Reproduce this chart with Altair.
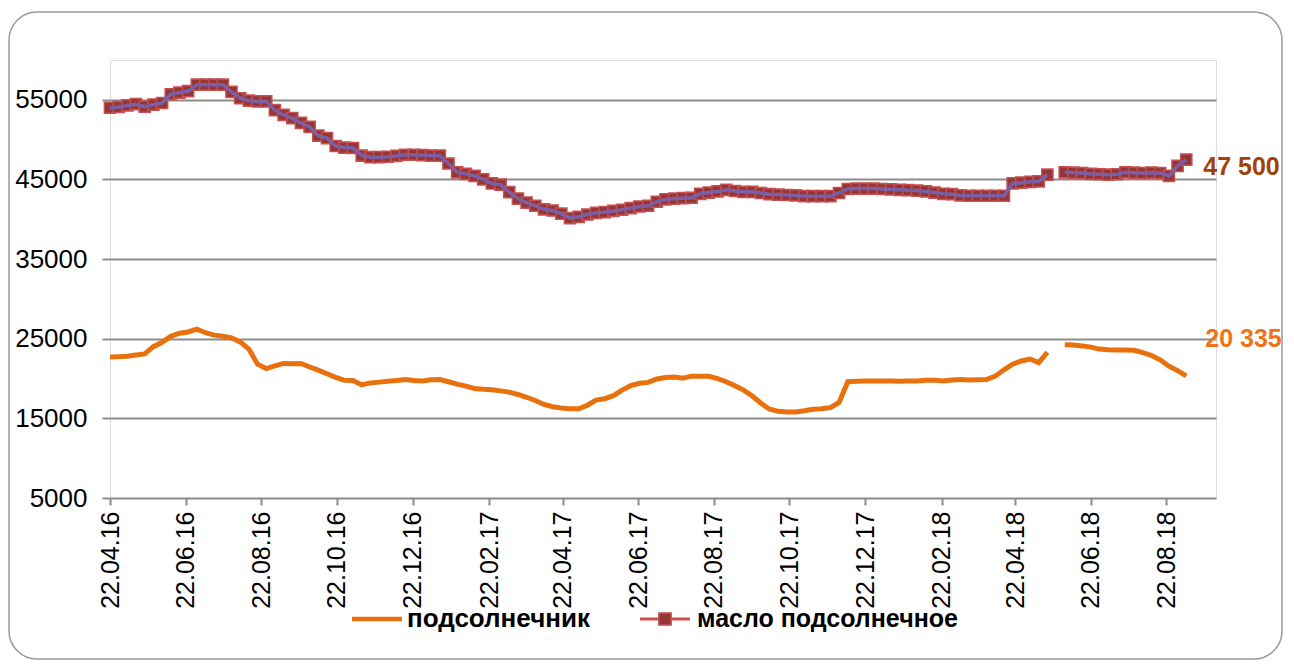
import altair as alt
import pandas as pd

# ---- data (weekly) ----
start_date = "2016-04-22"
oil = [
    54000, 54100, 54300, 54450, 54150, 54400, 54600, 55700, 55900, 56100,
    56900, 56900, 56900, 56900, 56000, 55200, 54900, 54800, 54800, 53700,
    53100, 52700, 52100, 51600, 50500, 50200, 49200, 49000, 48950, 48000,
    47800, 47800, 47850, 47950, 48100, 48100, 48050, 48000, 48000, 47000,
    45900, 45700, 45450, 45000, 44500, 44350, 43400, 42600, 42100, 41700,
    41250, 41100, 40700, 40150, 40300, 40600, 40800, 40900, 41050, 41200,
    41400, 41600, 41700, 42200, 42500, 42600, 42650, 42700, 43200, 43350,
    43500, 43700, 43550, 43450, 43450, 43300, 43150, 43100, 43050, 43000,
    42900, 42900, 42900, 42900, 43300, 43800, 43850, 43850, 43850, 43800,
    43750, 43700, 43650, 43600, 43500, 43350, 43200, 43150, 43000, 42950,
    42950, 42950, 42950, 42950, 44500, 44600, 44700, 44750, 45600, None,
    45900, 45850, 45800, 45700, 45650, 45600, 45650, 45900, 45850, 45800,
    45850, 45800, 45450, 46700, 47500,
]
sun = [
    22700, 22750, 22800, 22950, 23100, 24000, 24550, 25300, 25700, 25850,
    26200, 25750, 25450, 25300, 25100, 24600, 23700, 21800, 21250, 21600,
    21900, 21850, 21900, 21450, 21050, 20600, 20150, 19780, 19750, 19200,
    19450, 19550, 19650, 19750, 19880, 19750, 19700, 19850, 19880, 19600,
    19300, 19050, 18750, 18650, 18580, 18450, 18300, 18000, 17650, 17250,
    16750, 16460, 16300, 16200, 16200, 16650, 17300, 17470, 17850, 18550,
    19100, 19400, 19520, 19950, 20120, 20200, 20050, 20300, 20300, 20290,
    20000, 19600, 19100, 18550, 17800, 16900, 16150, 15880, 15800, 15790,
    15950, 16150, 16200, 16350, 17000, 19600, 19670, 19680, 19690, 19700,
    19680, 19650, 19680, 19700, 19780, 19800, 19680, 19820, 19870, 19820,
    19850, 19880, 20300, 21100, 21800, 22200, 22450, 22000, 23300, None,
    24250, 24200, 24100, 23950, 23700, 23620, 23600, 23580, 23550, 23250,
    22900, 22350, 21550, 21000, 20335,
]
tick_labels = ["22.04.16", "22.06.16", "22.08.16", "22.10.16", "22.12.16",
               "22.02.17", "22.04.17", "22.06.17", "22.08.17", "22.10.17",
               "22.12.17", "22.02.18", "22.04.18", "22.06.18", "22.08.18"]
y_ticks = [5000, 15000, 25000, 35000, 45000, 55000]
name_sun = "подсолнечник"
name_oil = "масло подсолнечное"
label_oil = "47 500"
label_sun = "20 335"

dates = pd.date_range(start_date, periods=len(oil), freq="7D").strftime("%Y-%m-%d")


def frame(vals):
    rows = []
    seg = 1
    for d, v in zip(dates, vals):
        if v is None:
            seg += 1
            continue
        rows.append({"date": d, "value": v, "seg": seg})
    return pd.DataFrame(rows)


sun_df = frame(sun)
oil_df = frame(oil)


def dt(s):
    d, m, y = s.split(".")
    return alt.DateTime(year=2000 + int(y), month=int(m), date=int(d), utc=True)


FONT = "Liberation Sans"
ORANGE = "#E8710E"
PURPLE = "#7B5FA6"
MARK_FILL = "#953535"
MARK_STROKE = "#C85050"

x_enc = alt.X(
    "date:T",
    scale=alt.Scale(type="utc", domain=[dt("22.04.16"), alt.DateTime(year=2018, month=10, date=1, utc=True)], nice=False),
    axis=alt.Axis(
        values=[dt(t) for t in tick_labels],
        labelExpr="utcFormat(datum.value, '%d.%m.%y')",
        labelAngle=-90, labelFont=FONT, labelFontSize=25, labelColor="#000000",
        labelPadding=6, tickSize=7, tickColor="#8c8c8c", tickWidth=2,
        domain=False, grid=False, title=None, labelOverlap=False,
    ),
)
y_enc = alt.Y(
    "value:Q",
    scale=alt.Scale(domain=[5000, 60000], nice=False, zero=False),
    axis=alt.Axis(
        values=y_ticks, format="d", labelFont=FONT, labelFontSize=26, labelColor="#000000",
        labelPadding=15, tickSize=8, tickColor="#8c8c8c", tickWidth=2,
        gridColor="#8c8c8c", gridWidth=2, domain=False, title=None,
    ),
)

one = pd.DataFrame({"a": [0]})

border = alt.Chart(one).mark_rect(
    filled=False, stroke="#9a9a9a", strokeWidth=1.5, cornerRadius=28
).encode(x=alt.value(-101), x2=alt.value(1172), y=alt.value(-48), y2=alt.value(599))

sun_line = alt.Chart(sun_df).mark_line(color=ORANGE, strokeWidth=5).encode(
    x=x_enc, y=y_enc, detail="seg:N")
oil_pts = alt.Chart(oil_df).mark_point(
    shape="square", filled=True, size=125, fill=MARK_FILL, stroke=MARK_STROKE,
    strokeWidth=1.5, opacity=1).encode(x=x_enc, y=y_enc)
oil_line = alt.Chart(oil_df).mark_line(color=PURPLE, strokeWidth=3.5).encode(
    x=x_enc, y=y_enc, detail="seg:N")

ann_oil = alt.Chart(oil_df.tail(1).assign(lbl=label_oil)).mark_text(
    align="left", baseline="middle", dx=17, dy=7, font=FONT, fontSize=25,
    fontWeight="bold", color="#A0420A").encode(x=x_enc, y=y_enc, text="lbl:N")
ann_sun = alt.Chart(sun_df.tail(1).assign(lbl=label_sun)).mark_text(
    align="left", baseline="middle", dx=19, dy=-37, font=FONT, fontSize=25,
    fontWeight="bold", color="#F07416").encode(x=x_enc, y=y_enc, text="lbl:N")

leg_y = 559
leg1_line = alt.Chart(one).mark_rule(color=ORANGE, strokeWidth=4.5).encode(
    x=alt.value(242), x2=alt.value(292), y=alt.value(leg_y))
leg1_text = alt.Chart(one).mark_text(
    text=name_sun, align="left", baseline="middle", font=FONT, fontSize=26,
    fontWeight="bold", color="#000000").encode(x=alt.value(297), y=alt.value(leg_y))
leg2_line = alt.Chart(one).mark_rule(color=MARK_STROKE, strokeWidth=3).encode(
    x=alt.value(530), x2=alt.value(580), y=alt.value(leg_y))
leg2_pt = alt.Chart(one).mark_point(
    shape="square", filled=True, size=150, fill=MARK_FILL, stroke=MARK_STROKE,
    strokeWidth=1.5, opacity=1).encode(x=alt.value(555), y=alt.value(leg_y))
leg2_text = alt.Chart(one).mark_text(
    text=name_oil, align="left", baseline="middle", font=FONT, fontSize=25,
    fontWeight="bold", color="#000000").encode(x=alt.value(587), y=alt.value(leg_y))

chart = alt.layer(
    border, sun_line, oil_pts, oil_line, ann_oil, ann_sun,
    leg1_line, leg1_text, leg2_line, leg2_pt, leg2_text,
).properties(
    width=1106, height=438,
    autosize=alt.AutoSizeParams(type="none"),
    padding={"left": 102, "top": 52, "right": 68, "bottom": 162},
).configure_view(stroke="#8c8c8c", strokeWidth=2).configure(background="#ffffff")

chart.save("out.html", embed_options={"renderer": "svg", "actions": False})
